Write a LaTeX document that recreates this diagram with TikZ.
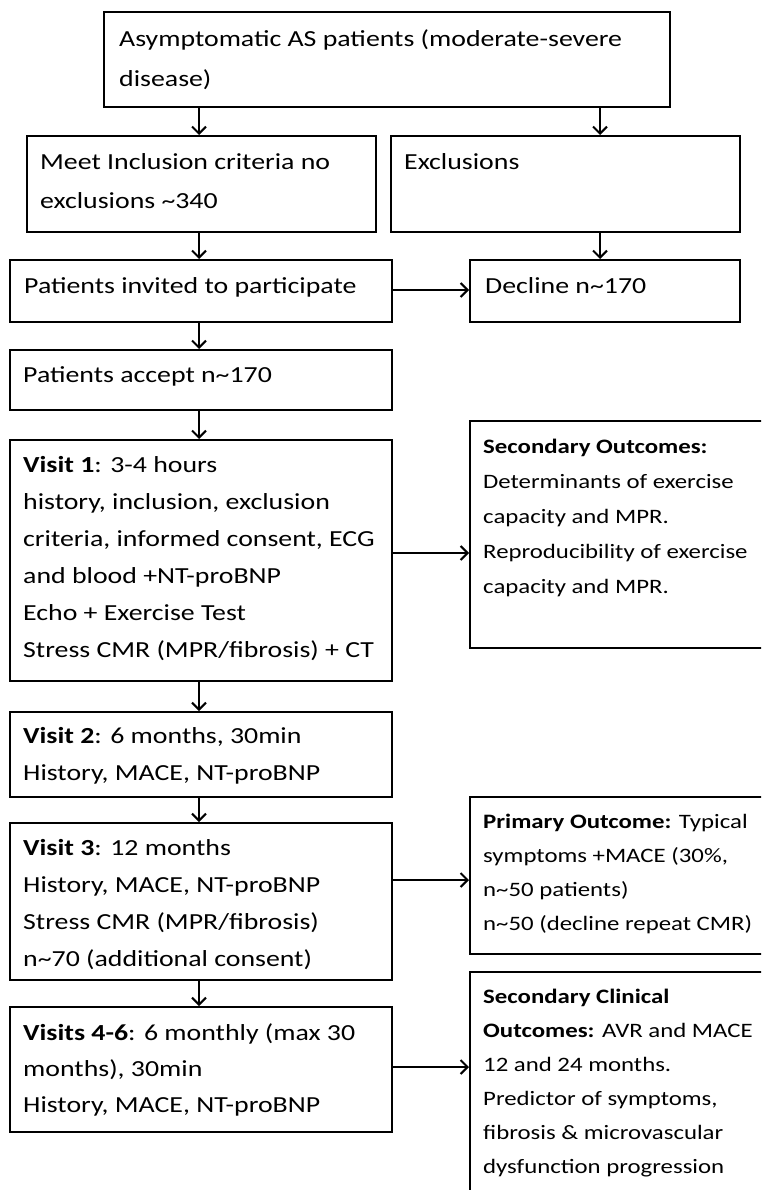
\documentclass[tikz,border=0pt]{standalone}
\usepackage{fontspec}
\setmainfont{Carlito}[FakeStretch=1.21]
\usetikzlibrary{arrows.meta}
\tikzset{
  box/.style={draw, line width=2pt, rectangle, inner sep=0pt},
  arr/.style={line width=2pt, -{Straight Barb[length=7pt,width=14pt,line width=2pt]}},
  txt/.style={anchor=base west, inner sep=0pt},
}
\newcommand{\boxtxtL}[2][37]{\parbox[t]{700pt}{\raggedright\fontsize{23}{#1}\selectfont #2}}
\newcommand{\boxtxtR}[2][35]{\parbox[t]{400pt}{\raggedright\fontsize{20.5}{#1}\selectfont #2}}
\begin{document}
\begin{tikzpicture}[x=1pt,y=-1pt]
\useasboundingbox (0,0) rectangle (761,1190);
\clip (0,0) rectangle (761,1190);
\fill[white] (0,0) rectangle (761,1190);
% boxes
\node[box, minimum width=566pt, minimum height=95pt] (top) at (387,59.5) {};
\node[box, minimum width=349pt, minimum height=96pt] (meet) at (201.5,184) {};
\node[box, minimum width=349pt, minimum height=96pt] (excl) at (565.5,184) {};
\node[box, minimum width=382pt, minimum height=62pt] (inv) at (201,291) {};
\node[box, minimum width=270pt, minimum height=62pt] (dec) at (605,291) {};
\node[box, minimum width=382pt, minimum height=60pt] (acc) at (201,380) {};
\node[box, minimum width=382pt, minimum height=241pt] (v1) at (201,560.5) {};
\node[box, minimum width=300pt, minimum height=227pt] (sec) at (620,534.5) {};
\node[box, minimum width=382pt, minimum height=85pt] (v2) at (201,754.5) {};
\node[box, minimum width=382pt, minimum height=157pt] (v3) at (201,901.5) {};
\node[box, minimum width=300pt, minimum height=157pt] (prim) at (620,875.5) {};
\node[box, minimum width=382pt, minimum height=125pt] (v46) at (201,1069.5) {};
\node[box, minimum width=300pt, minimum height=240pt] (secc) at (620,1092) {};
% texts
\node[txt] (ttop) at (119,47) {\boxtxtL[40]{Asymptomatic AS patients (moderate-severe\\disease)}};
\node[txt] (tmeet) at (40,170) {\boxtxtL[39]{Meet Inclusion criteria no\\exclusions \textasciitilde340}};
\node[txt] (texcl) at (404,170) {\boxtxtL{Exclusions}};
\node[txt] (tinv) at (24,293) {\boxtxtL{Patients invited to participate}};
\node[txt] (tdec) at (485,293) {\boxtxtL{Decline n\textasciitilde170}};
\node[txt] (tacc) at (23,382) {\boxtxtL{Patients accept n\textasciitilde170}};
\node[txt] (tv1) at (23,472) {\boxtxtL{\textbf{Visit 1}: 3-4 hours\\history, inclusion, exclusion\\criteria, informed consent, ECG\\and blood +NT-proBNP\\Echo + Exercise Test\\Stress CMR (MPR/fibrosis) + CT}};
\node[txt] (tsec) at (483,453) {\boxtxtR{\textbf{Secondary Outcomes:}\\Determinants of exercise\\capacity and MPR.\\Reproducibility of exercise\\capacity and MPR.}};
\node[txt] (tv2) at (23,743) {\boxtxtL{\textbf{Visit 2}: 6 months, 30min\\History, MACE, NT-proBNP}};
\node[txt] (tv3) at (23,855) {\boxtxtL{\textbf{Visit 3}: 12 months\\History, MACE, NT-proBNP\\Stress CMR (MPR/fibrosis)\\n\textasciitilde70 (additional consent)}};
\node[txt] (tprim) at (483,828) {\boxtxtR[34]{\textbf{Primary Outcome:} Typical\\symptoms +MACE (30\%,\\n\textasciitilde50 patients)\\n\textasciitilde50 (decline repeat CMR)}};
\node[txt] (tv46) at (23,1040) {\boxtxtL[36]{\textbf{Visits 4-6}: 6 monthly (max 30\\months), 30min\\History, MACE, NT-proBNP}};
\node[txt] (tsecc) at (483,1003) {\boxtxtR[34]{\textbf{Secondary Clinical}\\\textbf{Outcomes:} AVR and MACE\\12 and 24 months.\\Predictor of symptoms,\\fibrosis \& microvascular\\dysfunction progression}};
% connector guides
\coordinate (cL) at (199,0);
\coordinate (cR) at (600,0);
\coordinate (h1) at (0,290);
\coordinate (h2) at (0,553);
\coordinate (h3) at (0,880);
\coordinate (h4) at (0,1067);
% vertical arrows
\draw[arr] (top.south -| cL) -- (meet.north -| cL);
\draw[arr] (top.south -| cR) -- (excl.north -| cR);
\draw[arr] (meet.south -| cL) -- (inv.north -| cL);
\draw[arr] (excl.south -| cR) -- (dec.north -| cR);
\draw[arr] (inv.south -| cL) -- (acc.north -| cL);
\draw[arr] (acc.south -| cL) -- (v1.north -| cL);
\draw[arr] (v1.south -| cL) -- (v2.north -| cL);
\draw[arr] (v2.south -| cL) -- (v3.north -| cL);
\draw[arr] (v3.south -| cL) -- (v46.north -| cL);
% horizontal arrows
\draw[arr] (inv.east |- h1) -- (dec.west |- h1);
\draw[arr] (v1.east |- h2) -- (sec.west |- h2);
\draw[arr] (v3.east |- h3) -- (prim.west |- h3);
\draw[arr] (v46.east |- h4) -- (secc.west |- h4);
\end{tikzpicture}
\end{document}
